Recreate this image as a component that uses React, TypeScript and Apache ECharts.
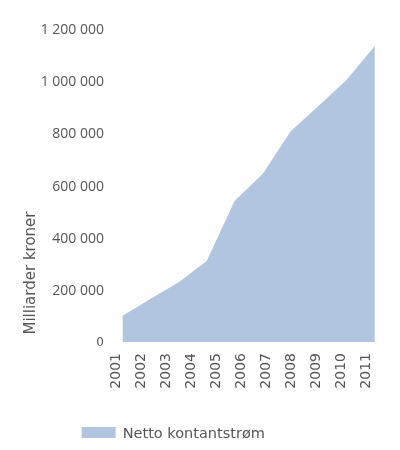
import { useEffect, useRef } from 'react';
import * as echarts from 'echarts';

const yearLabels = ['2001', '2002', '2003', '2004', '2005', '2006', '2007', '2008', '2009', '2010', '2011'];
const pointLabels = ['1', '2', '3', '4', '5', '6', '7', '8', '9', '10'];
const nettoKontantstrom = [100000, 165000, 228000, 310000, 540000, 642000, 805000, 903000, 1002000, 1131000];
const yTicks = { min: 0, max: 1200000, interval: 200000 };

const areaColor = '#b1c5e0';
const textColor = '#555555';

const fmt = (v: number) => String(v).replace(/\B(?=(\d{3})+(?!\d))/g, ' ');

export default function App() {
  const chartRef = useRef<HTMLDivElement>(null);

  useEffect(() => {
    if (!chartRef.current) return;
    const chart = echarts.init(chartRef.current, null, { renderer: 'svg' });
    chart.setOption({
      animation: false,
      grid: [
        { left: 115, right: 35, top: 28, bottom: 108 },
        { left: 122.7, right: 25.3, top: 28, bottom: 108 },
      ],
      xAxis: [
        {
          type: 'category',
          gridIndex: 0,
          data: yearLabels,
          boundaryGap: false,
          axisLine: { show: false },
          axisTick: { show: false },
          axisLabel: {
            rotate: 90,
            margin: 11,
            interval: 0,
            fontFamily: 'DejaVu Sans',
            fontSize: 14,
            color: textColor,
          },
        },
        {
          type: 'category',
          gridIndex: 1,
          data: pointLabels,
          boundaryGap: false,
          show: false,
        },
      ],
      yAxis: [
        { type: 'value', gridIndex: 0, show: false, ...yTicks },
        {
          type: 'value',
          gridIndex: 1,
          ...yTicks,
          splitLine: { show: false },
          axisLine: { show: false },
          axisTick: { show: false },
          axisLabel: {
            margin: 18.7,
            fontFamily: 'Open Sans',
            fontSize: 14,
            color: textColor,
            formatter: (v: number) => (v === 0 ? '{z|0}' : fmt(v)),
            rich: { z: { fontFamily: 'DejaVu Sans', fontSize: 12, color: textColor } },
          },
        },
      ],
      legend: {
        left: 76.7,
        top: 420,
        icon: 'rect',
        itemWidth: 34,
        itemHeight: 11,
        itemGap: 10,
        textStyle: { fontFamily: 'DejaVu Sans', fontSize: 14.5, color: textColor, padding: [0, 0, 0, 2] },
        data: ['Netto kontantstrøm'],
      },
      graphic: [
        {
          type: 'text',
          x: 30,
          y: 273,
          rotation: Math.PI / 2,
          style: {
            text: 'Milliarder kroner',
            fontFamily: 'DejaVu Sans',
            fontSize: 15,
            fill: textColor,
            textAlign: 'center',
            textVerticalAlign: 'middle',
          },
        },
      ],
      series: [
        {
          name: 'Netto kontantstrøm',
          type: 'line',
          xAxisIndex: 1,
          yAxisIndex: 1,
          data: nettoKontantstrom,
          symbol: 'none',
          lineStyle: { width: 0 },
          itemStyle: { color: areaColor },
          areaStyle: { color: areaColor, opacity: 1 },
        },
      ],
    });
    return () => chart.dispose();
  }, []);

  return <div ref={chartRef} style={{ position: 'fixed', left: 0, top: 0, width: 400, height: 450 }} />;
}
